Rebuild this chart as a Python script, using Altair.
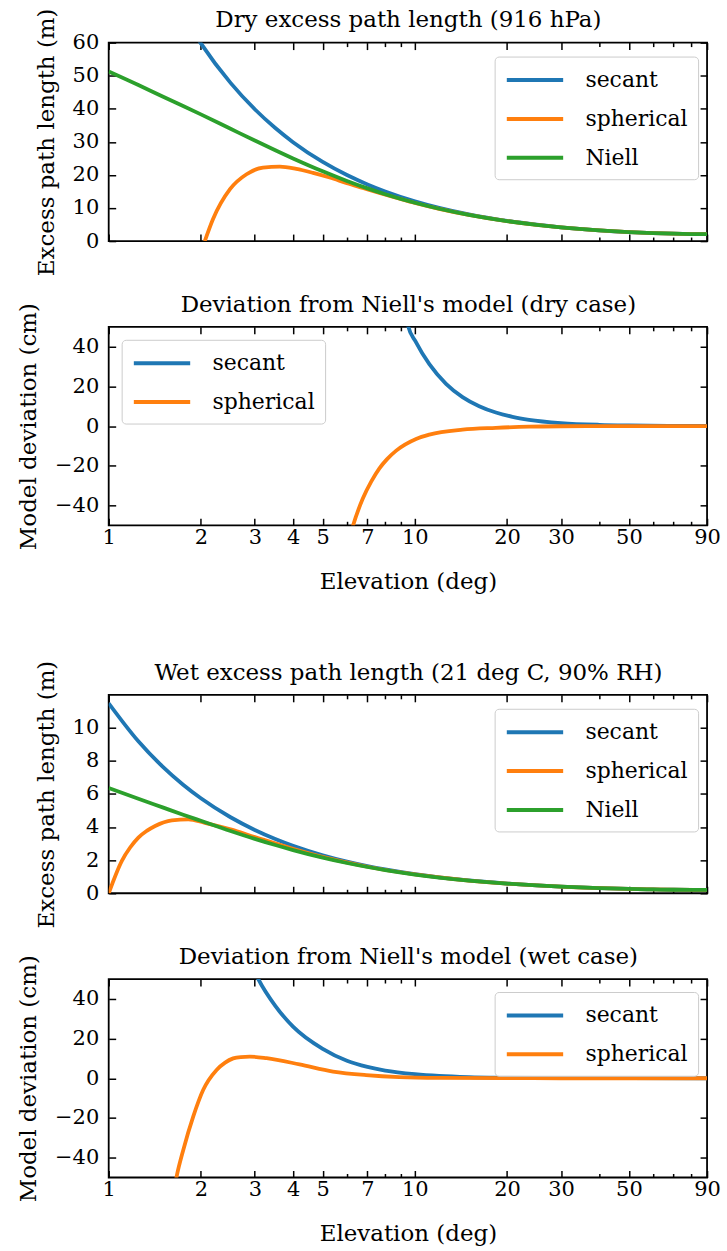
import altair as alt
import pandas as pd

FONT = "DejaVu Serif"
FS_TICK = 21
FS_TITLE = 23
FS_LEG = 22
MODELS3 = ["secant", "spherical", "Niell"]
MODELS2 = ["secant", "spherical"]
COLORS = ["#1f77b4", "#ff7f0e", "#2ca02c"]
X_MAJOR = [1, 2, 3, 4, 5, 7, 10, 20, 30, 50, 90]
X_MINOR = [6, 8, 9, 40, 60, 70, 80]

# ---------------- Panel 1: dry excess path length (m) ----------------
dry_sec_elev = [1.5, 1.75, 2, 2.5, 3, 3.5, 4, 5, 6, 7, 8, 10, 12, 15, 20, 25, 30, 40, 50, 60, 70, 80, 90]
dry_sec_val = [79.7, 68.3, 59.77, 47.82, 39.86, 34.17, 29.9, 23.93, 19.96, 17.12, 14.99, 12.01, 10.03,
               8.06, 6.10, 4.94, 4.172, 3.245, 2.723, 2.409, 2.22, 2.118, 2.086]
dry_niell_elev = [1, 1.25, 1.5, 1.75, 2, 2.5, 3, 3.5, 4, 5, 6, 7, 8, 10, 12, 15, 20, 25, 30, 40, 50, 60, 70, 80, 90]
dry_niell_val = [51.3, 47.2, 43.7, 40.85, 38.3, 33.95, 30.4, 27.45, 24.98, 21.08, 18.17, 15.93, 14.17, 11.57,
                 9.77, 7.92, 6.04, 4.91, 4.156, 3.24, 2.72, 2.408, 2.22, 2.118, 2.086]
dry_sph_elev = [2.06, 2.19, 2.49, 2.82, 3.19, 3.62, 4.10, 4.65, 5.27, 6.0, 6.76, 7.66, 8.69, 10, 12, 15, 20,
                25, 30, 40, 50, 60, 70, 80, 90]
dry_sph_val = [0, 6.6, 15.7, 20.2, 22.2, 22.5, 21.8, 20.6, 19.2, 17.5, 16.05, 14.53, 13.08, 11.51, 9.745, 7.91,
               6.035, 4.91, 4.156, 3.24, 2.72, 2.408, 2.22, 2.118, 2.086]

# ---------------- Panel 2: dry deviation from Niell (cm) ----------------
dry_dsec_elev = [9.3, 9.48, 10.09, 11.15, 12.64, 14.31, 16.22, 18.39, 20.83, 23.6, 30, 40, 50, 70, 90]
dry_dsec_val = [57.5, 51, 42.2, 31.2, 21.3, 14.6, 10.0, 6.8, 4.65, 3.17, 1.53, 0.64, 0.33, 0.12, 0.05]
dry_dsph_elev = [6.2, 6.27, 6.76, 7.2, 7.66, 8.1, 8.69, 10.09, 11.15, 14.31, 18.39, 23.6, 30, 50, 90]
dry_dsph_val = [-53, -50.5, -36.5, -28, -21.3, -16.8, -12.4, -6.5, -4.3, -1.8, -0.9, -0.3, -0.1, 0, 0]

# ---------------- Panel 3: wet excess path length (m) ----------------
wet_elev = [1, 1.25, 1.5, 1.75, 2, 2.5, 3, 3.5, 4, 5, 6, 7, 8, 10, 12, 15, 20, 25, 30, 40, 50, 60, 70, 80, 90]
wet_sec_val = [11.46, 9.168, 7.64, 6.549, 5.731, 4.585, 3.821, 3.276, 2.867, 2.295, 1.913, 1.641, 1.437,
               1.152, 0.962, 0.773, 0.585, 0.473, 0.400, 0.311, 0.261, 0.231, 0.213, 0.203, 0.2]
wet_niell_val = [6.35, 5.70, 5.18, 4.74, 4.37, 3.755, 3.28, 2.908, 2.606, 2.150, 1.826, 1.584, 1.398, 1.131,
                 0.950, 0.767, 0.582, 0.472, 0.399, 0.311, 0.261, 0.231, 0.213, 0.203, 0.2]
wet_sph_elev = [1, 1.104, 1.175, 1.25, 1.331, 1.418, 1.607, 1.82, 2.06, 2.5, 3, 4, 5, 7, 10, 15, 20, 30, 50, 90]
wet_sph_val = [0, 1.96, 2.76, 3.36, 3.76, 4.06, 4.40, 4.46, 4.25, 3.85, 3.39, 2.68, 2.19, 1.60, 1.135, 0.767,
               0.582, 0.399, 0.261, 0.2]

# ---------------- Panel 4: wet deviation from Niell (cm) ----------------
wet_dsec_elev = [2.95, 3.08, 3.5, 4, 5, 6, 7, 8, 10, 12, 15, 20, 30, 50, 90]
wet_dsec_val = [56, 50, 36.5, 26, 14.8, 8.8, 5.7, 3.9, 2.1, 1.2, 0.6, 0.3, 0.1, 0.03, 0]
wet_dsph_elev = [1.64, 1.667, 1.753, 1.889, 2.036, 2.251, 2.4, 2.55, 2.7, 2.89, 3.28, 4.2, 5.4, 6.93, 8.9, 12,
                 20, 30, 90]
wet_dsph_val = [-55, -49.4, -36, -19.2, -5.8, 4.2, 7.9, 10.0, 10.7, 10.9, 10.1, 7.0, 3.4, 1.6, 0.6, 0.2, 0.05,
                0, 0]


def long_df(series):
    rows = []
    for model, xs, ys in series:
        for x, y in zip(xs, ys):
            rows.append({"elev": x, "value": y, "model": model})
    return pd.DataFrame(rows)


W, H = 600, 199
MAJ, MIN = 7, 4


def panel(df, models, ydomain, yticks, ytitle, title, show_x, lx, ly):
    xs = alt.Scale(type="log", domain=[1, 90], nice=False)
    ys = alt.Scale(domain=ydomain, nice=False, zero=False)
    base = alt.Chart(df)
    legend = alt.Legend(
        orient="none", legendX=lx, legendY=ly, title=None,
        symbolType="M-1,0H4", symbolSize=511, symbolStrokeWidth=4,
        labelFont=FONT, labelFontSize=FS_LEG, labelColor="black", labelOffset=54,
        rowPadding=14, padding=10, cornerRadius=4,
        fillColor="rgba(255,255,255,0.8)", strokeColor="#cccccc",
    )
    lines = base.mark_line(clip=True, strokeWidth=3.8, interpolate="monotone").encode(
        x=alt.X("elev:Q", scale=xs, axis=alt.Axis(
            orient="bottom", values=X_MAJOR, format="d", labels=show_x,
            title="Elevation (deg)" if show_x else None,
            tickSize=MAJ, offset=-MAJ, labelPadding=1, titlePadding=23,
            labelFlush=False, labelOverlap=False)),
        y=alt.Y("value:Q", scale=ys, axis=alt.Axis(
            orient="left", values=yticks, format="d", title=ytitle,
            tickSize=MAJ, offset=-MAJ, labelPadding=10, titlePadding=14)),
        color=alt.Color("model:N", scale=alt.Scale(domain=models, range=COLORS[:len(models)]),
                        legend=legend),
    )
    ghost = base.mark_line(strokeOpacity=0, clip=True)
    top_major = ghost.encode(
        x=alt.X("elev:Q", scale=xs, axis=alt.Axis(
            orient="top", values=X_MAJOR, labels=False, title=title,
            titleBaseline="alphabetic", titlePadding=15,
            tickSize=MAJ, offset=-MAJ)),
        y=alt.Y("value:Q", scale=ys, axis=alt.Axis(orient="right", values=yticks, labels=False, title=None,
                                                   tickSize=MAJ, offset=-MAJ)),
    )
    bot_minor = ghost.encode(
        x=alt.X("elev:Q", scale=xs, axis=alt.Axis(orient="bottom", values=X_MINOR, labels=False, title=None,
                                                  tickSize=MIN, offset=-MIN)),
        y=alt.Y("value:Q", scale=ys, axis=None),
    )
    top_minor = ghost.encode(
        x=alt.X("elev:Q", scale=xs, axis=alt.Axis(orient="top", values=X_MINOR, labels=False, title=None,
                                                  tickSize=MIN, offset=-MIN)),
        y=alt.Y("value:Q", scale=ys, axis=None),
    )
    return alt.layer(lines, top_major, bot_minor, top_minor).resolve_axis(
        x="independent", y="independent"
    ).properties(width=W, height=H)


df1 = long_df([("secant", dry_sec_elev, dry_sec_val), ("spherical", dry_sph_elev, dry_sph_val),
               ("Niell", dry_niell_elev, dry_niell_val)])
df2 = long_df([("secant", dry_dsec_elev, dry_dsec_val), ("spherical", dry_dsph_elev, dry_dsph_val)])
df3 = long_df([("secant", wet_elev, wet_sec_val), ("spherical", wet_sph_elev, wet_sph_val),
               ("Niell", wet_elev, wet_niell_val)])
df4 = long_df([("secant", wet_dsec_elev, wet_dsec_val), ("spherical", wet_dsph_elev, wet_dsph_val)])

p1 = panel(df1, MODELS3, [0, 60], [0, 10, 20, 30, 40, 50, 60], "Excess path length (m)",
           "Dry excess path length (916 hPa)", False, 387, 14)
p2 = panel(df2, MODELS2, [-50, 50], [-40, -20, 0, 20, 40], "Model deviation (cm)",
           "Deviation from Niell's model (dry case)", True, 13, 13)
p3 = panel(df3, MODELS3, [0, 11.97], [0, 2, 4, 6, 8, 10], "Excess path length (m)",
           "Wet excess path length (21 deg C, 90% RH)", False, 387, 14)
p4 = panel(df4, MODELS2, [-50, 50], [-40, -20, 0, 20, 40], "Model deviation (cm)",
           "Deviation from Niell's model (wet case)", True, 387, 13)

top = alt.vconcat(p1, p2, spacing=15).resolve_scale(
    color="independent").resolve_legend(color="independent")
bottom = alt.vconcat(p3, p4, spacing=15).resolve_scale(
    color="independent").resolve_legend(color="independent")

chart = alt.vconcat(top, bottom, spacing=65).resolve_scale(
    color="independent").resolve_legend(color="independent").properties(
    padding={"left": 16, "top": 5, "right": 5, "bottom": 5}, background="white"
).configure_view(
    stroke="black", strokeWidth=1.8
).configure_axis(
    labelFont=FONT, labelFontSize=FS_TICK, labelColor="black",
    titleFont=FONT, titleFontSize=FS_TITLE, titleFontWeight="normal", titleColor="black",
    tickColor="black", tickWidth=1.5, domain=False, grid=False,
)

chart.save("out.html", embed_options={"renderer": "svg", "actions": False})
